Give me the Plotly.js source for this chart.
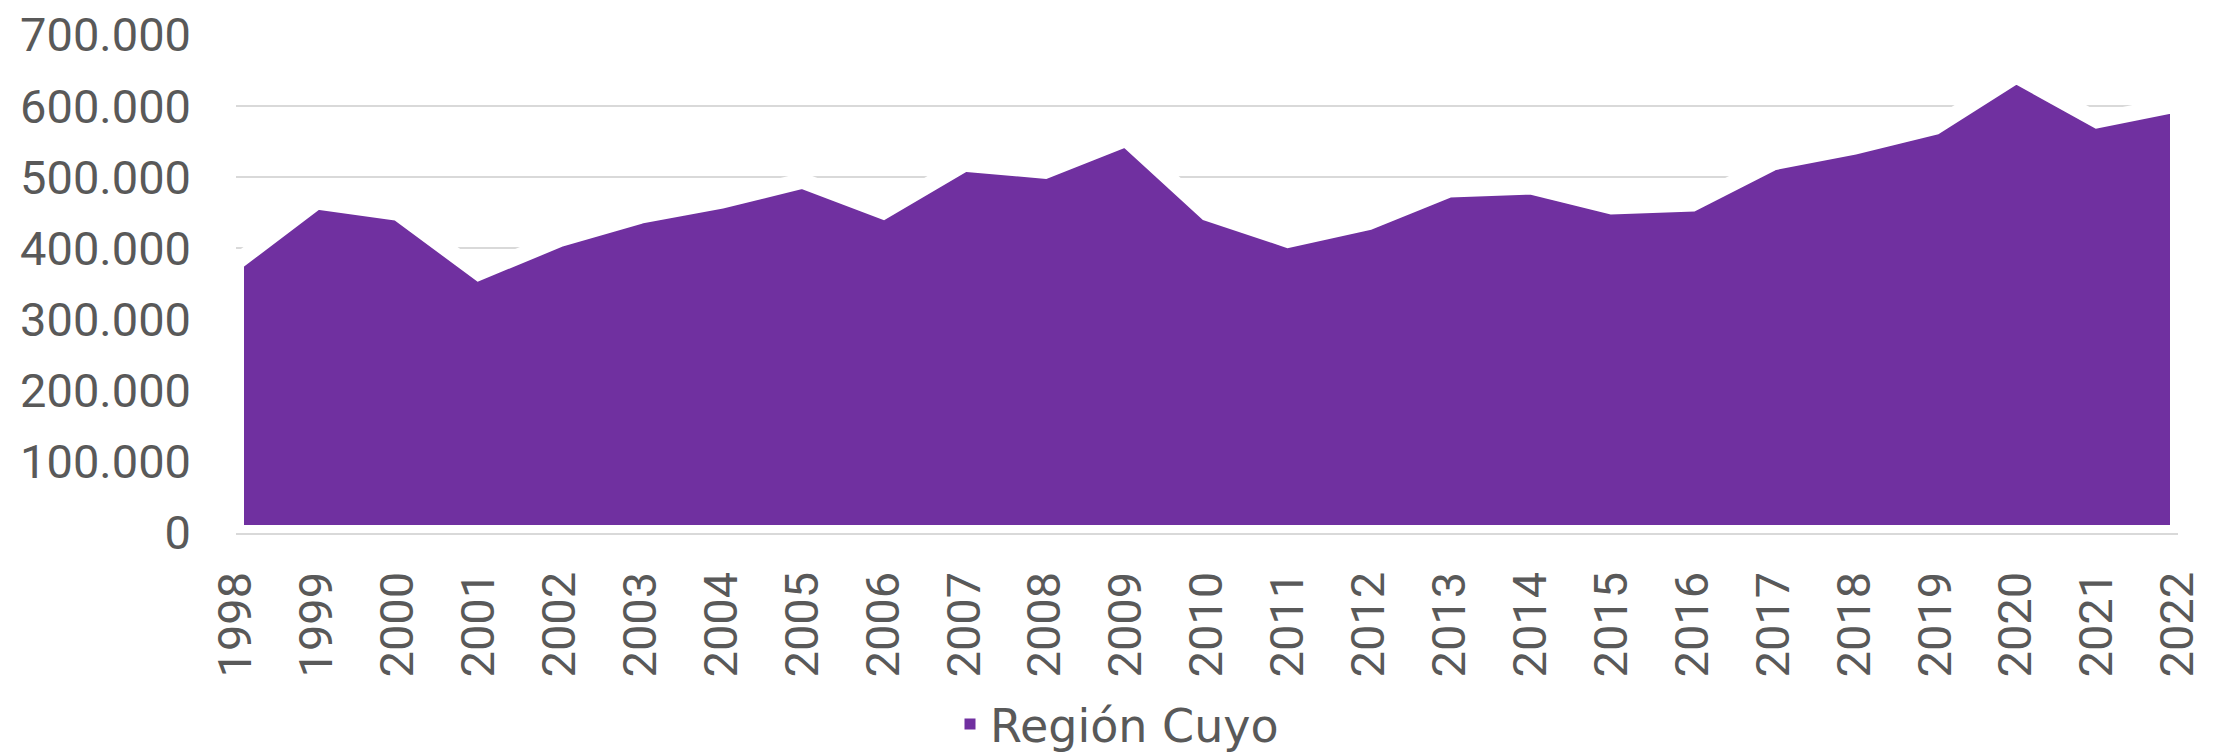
<!DOCTYPE html>
<html>
<head>
<meta charset="utf-8">
<script src="https://cdn.plot.ly/plotly-3.0.1.min.js"></script>
<style>
  html, body { margin: 0; padding: 0; background: #ffffff; }
  #chart { width: 2234px; height: 753px; }
</style>
</head>
<body>
<div id="chart"></div>
<script>
// Categories (years)
const years = ['1998','1999','2000','2001','2002','2003','2004','2005','2006','2007','2008','2009',
               '2010','2011','2012','2013','2014','2015','2016','2017','2018','2019','2020','2021','2022'];

// Series values: Región Cuyo
const cuyo = [380000, 466000, 450000, 366000, 413000, 446000, 467000, 495000, 452000, 519000,
              509000, 554000, 450000, 412000, 437000, 483000, 487000, 459000, 463000, 521000,
              543000, 571000, 643000, 580000, 603000];

// Y-axis tick values
const yTicks = [0, 100000, 200000, 300000, 400000, 500000, 600000, 700000];

const seriesName = 'Región Cuyo';
const purple = '#7030A0';

// Area drawn as a closed polygon (data + zero baseline) with a white outline
const first = years[0];
const last = years[years.length - 1];
const areaTrace = {
  type: 'scatter',
  mode: 'lines',
  x: years.concat([last, first, first]),
  y: cuyo.concat([0, 0, cuyo[0]]),
  fill: 'toself',
  fillcolor: purple,
  line: { color: '#ffffff', width: 16 },
  showlegend: false,
  hoverinfo: 'skip'
};

// Legend entry
const legendTrace = {
  type: 'scatter',
  mode: 'markers',
  x: [null],
  y: [null],
  name: seriesName,
  marker: { symbol: 'square', size: 11, color: purple },
  showlegend: true
};

const layout = {
  width: 2234,
  height: 753,
  margin: { l: 236, r: 56, t: 35, b: 220 },
  paper_bgcolor: '#ffffff',
  plot_bgcolor: '#ffffff',
  separators: ',.',
  font: { family: 'Roboto, "Open Sans", sans-serif', color: '#595959', size: 47 },
  showlegend: true,
  xaxis: {
    type: 'category',
    range: [0, years.length - 1],
    showgrid: false,
    zeroline: false,
    showline: true,
    linecolor: '#d9d9d9',
    linewidth: 2,
    layer: 'above traces',
    ticks: '',
    tickangle: -90,
    ticklabelstandoff: 18,
    tickfont: { size: 47, color: '#595959' },
    fixedrange: true
  },
  yaxis: {
    range: [0, 700000],
    tickvals: yTicks,
    tickformat: ',d',
    showgrid: true,
    gridcolor: '#d9d9d9',
    gridwidth: 2,
    zeroline: false,
    showline: false,
    ticks: '',
    ticklabelstandoff: 44,
    tickfont: { size: 47, color: '#595959' },
    fixedrange: true
  },
  legend: {
    orientation: 'h',
    xref: 'container',
    yref: 'container',
    x: 0.5,
    xanchor: 'center',
    y: 0.0385,
    yanchor: 'middle',
    font: { family: '"DejaVu Sans", sans-serif', size: 46, color: '#595959' },
    bgcolor: 'rgba(0,0,0,0)'
  }
};

Plotly.newPlot('chart', [areaTrace, legendTrace], layout, { displayModeBar: false, staticPlot: true });
</script>
</body>
</html>
